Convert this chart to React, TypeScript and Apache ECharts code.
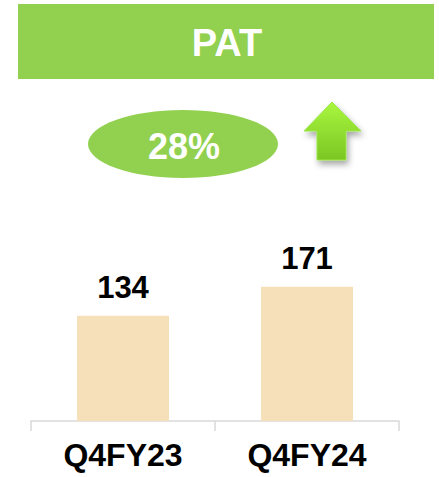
import React, { useEffect, useRef } from "react";
import * as echarts from "echarts";

const title = "PAT";
const growthLabel = "28%";
const categories = ["Q4FY23", "Q4FY24"];
const patValues = [134, 171];

export default function App() {
  const ref = useRef<HTMLDivElement>(null);
  useEffect(() => {
    if (!ref.current) return;
    const chart = echarts.init(ref.current, null, { renderer: "svg" });
    chart.setOption({
      animation: false,
      backgroundColor: "#ffffff",
      grid: { left: 31, right: 40, top: 201, bottom: 56 },
      xAxis: {
        type: "category",
        data: categories,
        boundaryGap: true,
        axisLine: { show: true, lineStyle: { color: "#D9D9D9", width: 1.5 } },
        axisTick: { show: true, length: 10, alignWithLabel: false, lineStyle: { color: "#D9D9D9", width: 1.5 } },
        axisLabel: {
          color: "#000000",
          fontFamily: "Liberation Sans, Arial, sans-serif",
          fontWeight: "bold",
          fontSize: 32,
          lineHeight: 32,
          margin: 18,
        },
      },
      yAxis: {
        type: "value",
        min: 0,
        max: 280,
        show: false,
        splitLine: { show: false },
      },
      series: [
        {
          type: "bar",
          data: patValues,
          barWidth: 92,
          itemStyle: { color: "#F6E0B9" },
          label: {
            show: true,
            position: "top",
            distance: 13,
            color: "#000000",
            fontFamily: "Liberation Sans, Arial, sans-serif",
            fontWeight: "bold",
            fontSize: 31,
          },
        },
      ],
      graphic: [
        {
          type: "rect",
          shape: { x: 18, y: 4, width: 416, height: 75 },
          style: { fill: "#92D050" },
        },
        {
          type: "text",
          x: 227,
          y: 43,
          style: {
            text: title,
            fill: "#ffffff",
            font: "bold 38px 'Liberation Sans', Arial, sans-serif",
            align: "center",
            verticalAlign: "middle",
          },
        },
        {
          type: "ellipse",
          shape: { cx: 183, cy: 144, rx: 95, ry: 34 },
          style: { fill: "#92D050" },
        },
        {
          type: "text",
          x: 184,
          y: 146,
          style: {
            text: growthLabel,
            fill: "#ffffff",
            font: "bold 36px 'Liberation Sans', Arial, sans-serif",
            align: "center",
            verticalAlign: "middle",
          },
        },
        {
          type: "polygon",
          shape: {
            points: [
              [332, 102],
              [361, 131],
              [346, 131],
              [346, 160],
              [317, 160],
              [317, 131],
              [304, 131],
            ],
          },
          style: {
            fill: new echarts.graphic.LinearGradient(0, 0, 0, 1, [
              { offset: 0, color: "#A9F63F" },
              { offset: 1, color: "#7CC623" },
            ]),
            stroke: "#9AE84A",
            lineWidth: 1,
            shadowBlur: 6,
            shadowOffsetX: 2,
            shadowOffsetY: 4,
            shadowColor: "rgba(0,0,0,0.35)",
          },
        },
      ],
    });
    return () => chart.dispose();
  }, []);
  return <div ref={ref} style={{ width: 439, height: 477, position: "absolute", left: 0, top: 0 }} />;
}
